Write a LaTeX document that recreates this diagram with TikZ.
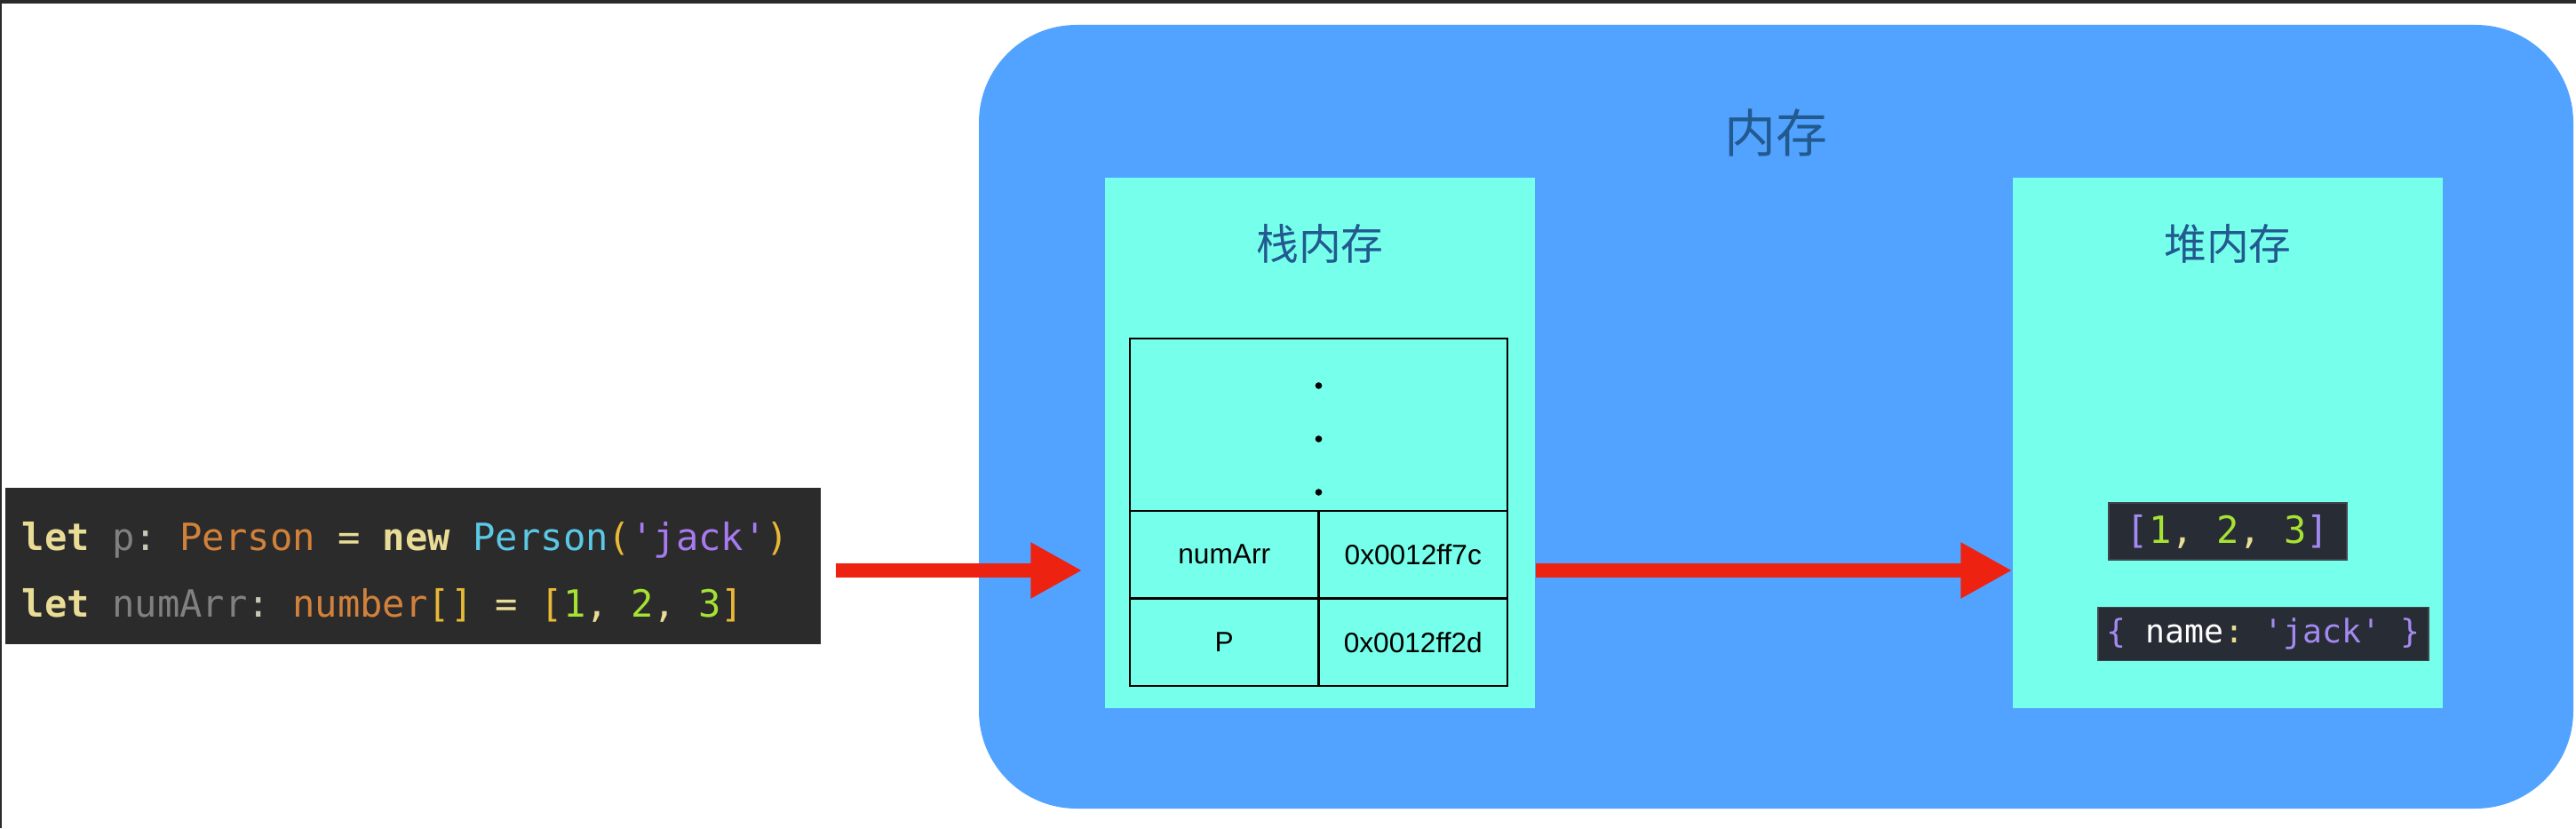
\documentclass[tikz,border=0pt]{standalone}
\usepackage{fontspec}
\setmainfont{Liberation Sans}
\setmonofont{DejaVu Sans Mono}
\newfontfamily\cjkfont{Noto Sans CJK SC}
\usetikzlibrary{arrows.meta,positioning}

\definecolor{memblue}{HTML}{52A3FF}
\definecolor{regcyan}{HTML}{76FFEA}
\definecolor{codebg}{HTML}{2B2B2B}
\definecolor{heapbg}{HTML}{282C34}
\definecolor{arrowred}{HTML}{EE2211}
\definecolor{titleblue}{HTML}{22598F}
\definecolor{framedark}{HTML}{2A2A2A}
\definecolor{kwc}{HTML}{E8DC96}
\definecolor{varc}{HTML}{808080}
\definecolor{punc}{HTML}{C8C8B4}
\definecolor{typec}{HTML}{D2813A}
\definecolor{ctorc}{HTML}{5BC8E6}
\definecolor{brc}{HTML}{E8B836}
\definecolor{strc}{HTML}{A77AF0}
\definecolor{numc}{HTML}{A6E234}
\definecolor{objc}{HTML}{A38AF2}

\begin{document}
\begin{tikzpicture}[
  memory/.style={fill=memblue,rounded corners=1.1cm,
    minimum width=17.95cm,minimum height=8.82cm},
  region/.style={fill=regcyan,minimum width=4.84cm,minimum height=5.97cm},
  memtitle/.style={text=titleblue,font=\cjkfont\fontsize{16.5}{20}\selectfont},
  regtitle/.style={text=titleblue,font=\cjkfont\fontsize{13.6}{16}\selectfont},
  codebox/.style={fill=codebg,minimum width=9.18cm,minimum height=1.76cm},
  codeline/.style={anchor=base west,inner sep=0pt,text=punc,
    font=\ttfamily\fontsize{12}{14}\selectfont},
  cell/.style={draw=black,line width=0.6pt,outer sep=0pt,
    minimum width=2.125cm,minimum height=0.985cm,
    font=\fontsize{9}{11}\selectfont},
  heapval/.style={fill=heapbg,draw=heapbg!88!white,line width=0.4pt,
    inner sep=0pt,font=\ttfamily\fontsize{12}{14}\selectfont},
  flow/.style={-{Triangle[length=16.5pt,width=16.8pt]},
    line width=4.55pt,draw=arrowred}
]
  \useasboundingbox (0,0) rectangle (29,9.32);
  % screenshot edges
  \fill[framedark] (0,9.28) rectangle (29,9.32);
  \fill[framedark] (0,0) rectangle (0.02,9.32);

  % source code
  \node[codebox] (code) at (4.65,2.95) {};
  \node[codeline] (line1) at (0.24,3.12) {{\bfseries\color{kwc}let} {\color{varc}p}: {\color{typec}Person} {\color{kwc}=} {\bfseries\color{kwc}new} {\color{ctorc}Person}{\color{brc}(}{\color{strc}\textquotesingle jack\textquotesingle}{\color{brc})}};
  \node[codeline] (line2) at (0.24,2.37) {{\bfseries\color{kwc}let} {\color{varc}numArr}: {\color{typec}number}{\color{brc}[]} {\color{kwc}=} {\color{brc}[}{\color{numc}1}{\color{kwc},} {\color{numc}2}{\color{kwc},} {\color{numc}3}{\color{brc}]}};

  % memory
  \node[memory] (mem) at (19.995,4.63) {};
  \node[memtitle] (memname) at ([yshift=-12.2mm]mem.north) {内存};

  \node[region] (stack) at (14.86,4.335) {};
  \node[region] (heap) at (25.08,4.335) {};
  \node[regtitle] (stackname) at ([yshift=-7.5mm]stack.north) {栈内存};
  \node[regtitle] (heapname) at ([yshift=-7.5mm]heap.north) {堆内存};

  % stack table
  \node[cell,minimum width=4.25cm,minimum height=1.94cm] (dots) at (14.845,4.54) {};
  \foreach \dy in {5.3,11.3,17.3}
    \fill ([yshift=-\dy mm]dots.north) circle (0.038);
  \node[cell,anchor=north west] (numname) at (dots.south west) {numArr};
  \node[cell,right=0pt of numname] (numaddr) {0x0012ff7c};
  \node[cell,below=0pt of numname] (pname) {P};
  \node[cell,right=0pt of pname] (paddr) {0x0012ff2d};

  % heap values
  \node[heapval,minimum width=2.68cm,minimum height=0.64cm] (arr) at (25.08,3.34)
    {{\color{objc}[}{\color{numc}1}{\color{kwc},} {\color{numc}2}{\color{kwc},} {\color{numc}3}{\color{objc}]}};
  \node[heapval,minimum width=3.72cm,minimum height=0.60cm,
    font=\ttfamily\fontsize{10.4}{12}\selectfont,below=5.2mm of arr,xshift=4mm] (obj)
    {{\color{objc}\{} {\color{white}name}{\color{kwc}:} {\color{objc}\textquotesingle jack\textquotesingle} {\color{objc}\}}};

  \coordinate (lvl) at (0,2.90);
  \draw[flow,shorten <=1.6mm,shorten >=2.5mm] (code.east |- lvl) -- (stack.west |- lvl);
  \draw[flow] (stack.east |- lvl) -- (heap.west |- lvl);
\end{tikzpicture}
\end{document}
